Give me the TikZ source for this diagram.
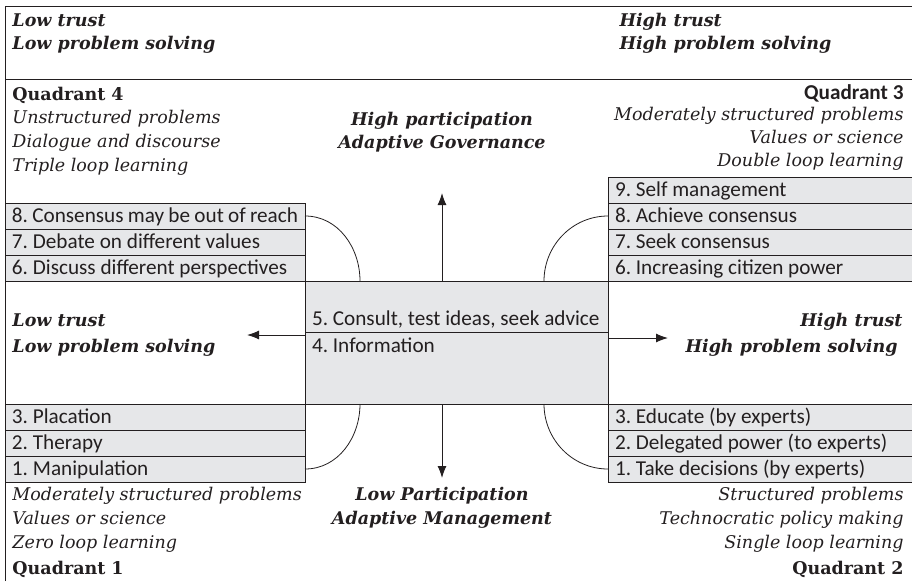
\documentclass[tikz,border=0pt]{standalone}
\usepackage{fontspec}
\setmainfont{DejaVu Serif}
\newfontfamily\rowfont{Carlito}
\usepackage{xcolor}
\usetikzlibrary{arrows.meta}
\definecolor{boxgrey}{RGB}{230,231,233}
\definecolor{ink}{RGB}{35,31,32}
\frenchspacing

\begin{document}
\begin{tikzpicture}[x=1pt, y=-1pt, line width=1pt, color=ink,
  rowbox/.style={draw, fill=boxgrey, anchor=north west, outer sep=0pt, inner xsep=7pt, inner ysep=0pt,
    minimum height=26pt, text height=14pt, text depth=2pt,
    execute at begin node={\hbox to #1\bgroup}, execute at end node={\hfil\egroup},
    font=\rowfont\fontsize{21.2}{25}\selectfont},
  lbl/.style={inner sep=0pt, font=\fontsize{17.5}{21}\selectfont\itshape},
  head/.style={inner sep=0pt, font=\fontsize{17.5}{21}\selectfont\bfseries\itshape},
  quad/.style={inner sep=0pt, font=\fontsize{17.5}{21}\selectfont\bfseries},
  quadsans/.style={inner sep=0pt, font=\rowfont\fontsize{21.2}{25}\selectfont\bfseries},
  curveline/.style={line width=0.8pt},
  axisarrow/.style={line width=1pt, -{Latex[length=12pt,width=9pt]}}]
\useasboundingbox (0,0) rectangle (912,581);
\clip (0,0) rectangle (912,581);

\draw (5,581) -- (5,6) -- (912,6);
\draw (5,79) -- (912,79);

\node[head, anchor=base west] (lowtop1) at (12,26) {Low trust};
\node[head, anchor=base west] (lowtop2) at (12,49) {Low problem solving};
\node[head, anchor=base west] (hightop1) at (619,26) {High trust};
\node[head, anchor=base west] (hightop2) at (619,49) {High problem solving};

\node[quad, anchor=base west] (q4) at (12,100) {Quadrant 4};
\node[lbl, anchor=base west] (q4a) at (12,123) {Unstructured problems};
\node[lbl, anchor=base west] (q4b) at (12,147) {Dialogue and discourse};
\node[lbl, anchor=base west] (q4c) at (12,171) {Triple loop learning};

\node[quadsans, anchor=base east] (q3) at (904,99) {Quadrant 3};
\node[lbl, anchor=base east] (q3a) at (904,120) {Moderately structured problems};
\node[lbl, anchor=base east] (q3b) at (904,143) {Values or science};
\node[lbl, anchor=base east] (q3c) at (904,166) {Double loop learning};

\node[head, anchor=base] (highpart) at (442,125) {High participation};
\node[head, anchor=base] (adgov) at (442,148) {Adaptive Governance};

\node[rowbox=286pt] (l8) at (5,203) {8. Consensus may be out of reach};
\node[rowbox=286pt] (l7) at (l8.south west) {7. Debate on different values};
\node[rowbox=286pt] (l6) at (l7.south west) {6. Discuss different perspectives};

\node[rowbox=292pt] (r9) at (608,177) {9. Self management};
\node[rowbox=292pt] (r8) at (r9.south west) {8. Achieve consensus};
\node[rowbox=292pt] (r7) at (r8.south west) {7. Seek consensus};
\node[rowbox=292pt] (r6) at (r7.south west) {6. Increasing citizen power};

\node[rowbox=289pt, minimum height=51pt, text height=38pt, text depth=1pt] (c5) at (305,281) {5. Consult, test ideas, seek advice};
\node[rowbox=289pt, minimum height=72pt, text height=14pt, text depth=46pt] (c4) at (c5.south west) {4. Information};

\node[head, anchor=base west] (lowmid1) at (12,326) {Low trust};
\node[head, anchor=base west] (lowmid2) at (12,352) {Low problem solving};
\node[head, anchor=base east] (highmid1) at (903,326) {High trust};
\node[head, anchor=base east] (highmid2) at (898,352) {High problem solving};

\node[rowbox=286pt] (l3) at (5,404) {3. Placation};
\node[rowbox=286pt] (l2) at (l3.south west) {2. Therapy};
\node[rowbox=286pt] (l1) at (l2.south west) {1. Manipulation};

\node[rowbox=292pt] (r3) at (608,404) {3. Educate (by experts)};
\node[rowbox=292pt] (r2) at (r3.south west) {2. Delegated power (to experts)};
\node[rowbox=292pt] (r1) at (r2.south west) {1. Take decisions (by experts)};

\node[lbl, anchor=base west] (q1a) at (12,500) {Moderately structured problems};
\node[lbl, anchor=base west] (q1b) at (12,524) {Values or science};
\node[lbl, anchor=base west] (q1c) at (12,548) {Zero loop learning};
\node[quad, anchor=base west] (q1) at (12,574) {Quadrant 1};

\node[head, anchor=base] (lowpart) at (442,500) {Low Participation};
\node[head, anchor=base] (admgmt) at (442,524) {Adaptive Management};

\node[lbl, anchor=base east] (q2a) at (904,500) {Structured problems};
\node[lbl, anchor=base east] (q2b) at (904,524) {Technocratic policy making};
\node[lbl, anchor=base east] (q2c) at (904,548) {Single loop learning};
\node[quad, anchor=base east] (q2) at (904,574) {Quadrant 2};

\coordinate (arcNW) at (360,281);
\coordinate (arcNE) at (544,281);
\coordinate (arcSW) at (360,404);
\coordinate (arcSE) at (544,404);
\coordinate (tipN) at (442,193);
\coordinate (tipS) at (442,478);
\coordinate (tipW) at (247,335);
\coordinate (tipE) at (668,338);

\draw[curveline] (l8.east) to[out=0, in=90] (arcNW);
\draw[curveline] (r8.west) to[out=180, in=90] (arcNE);
\draw[curveline] (l1.east) to[out=0, in=-90] (arcSW);
\draw[curveline] (r1.west) to[out=180, in=-90] (arcSE);

\draw[axisarrow] (tipN |- c5.north) -- (tipN);
\draw[axisarrow] (tipS |- c4.south) -- (tipS);
\draw[axisarrow] (tipW -| c4.west) -- (tipW);
\draw[axisarrow] (tipE -| c4.east) -- (tipE);
\end{tikzpicture}
\end{document}
